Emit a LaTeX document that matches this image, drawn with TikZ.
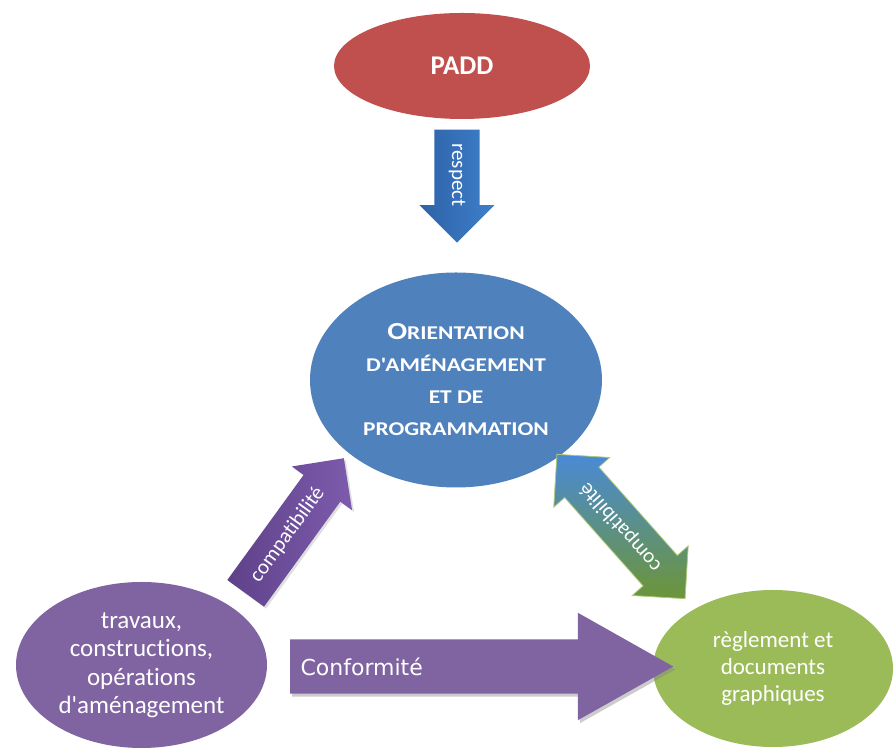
\documentclass[tikz,border=0pt]{standalone}
\usepackage{fontspec}
\setmainfont{Carlito}[Ligatures=NoCommon]
\newfontfamily\widefont{Carlito}[Ligatures=NoCommon, FakeStretch=1.2]
\newfontfamily\dejavu{DejaVu Sans}
\usetikzlibrary{shapes.geometric,shapes.arrows,shadows}

\definecolor{paddred}{HTML}{C0504D}
\definecolor{oapblue}{HTML}{4F81BD}
\definecolor{travpurple}{HTML}{8064A2}
\definecolor{reggreen}{HTML}{9BBB59}
\definecolor{respectdark}{HTML}{2E62A7}
\definecolor{respectlight}{HTML}{3E7FCB}
\definecolor{compatdark}{HTML}{5E4289}
\definecolor{compatlight}{HTML}{7D5BAD}
\definecolor{doubletop}{HTML}{4A8AD6}
\definecolor{doublebottom}{HTML}{6C9538}

\newcommand\petitcap[1]{{\fontsize{19.5}{32}\selectfont #1}}

\begin{document}
\begin{tikzpicture}[x=1pt, y=1pt,
    bubble/.style = {ellipse, inner sep=0pt, text=white, align=center},
    blockarrow/.style = {text height=14pt, text depth=4pt, inner xsep=1pt, inner ysep=13.5pt,
        text=white, font=\fontsize{21}{21}\selectfont}]

    \useasboundingbox (0,0) rectangle (895,749);

    \node[bubble, fill=paddred, minimum width=256pt, minimum height=106pt,
        font=\bfseries\fontsize{27}{30}\selectfont] (padd) at (462,683) {PADD};

    \node[bubble, fill=oapblue, minimum width=292pt, minimum height=215pt,
        font=\widefont\bfseries\fontsize{24.5}{32}\selectfont] (oap) at (456,369)
        {O\petitcap{RIENTATION}\\\petitcap{D\textquotesingle AMÉNAGEMENT}\\\petitcap{ET DE}\\\petitcap{PROGRAMMATION}};

    \node[bubble, fill=travpurple, minimum width=251pt, minimum height=166pt,
        font=\fontsize{25}{28.5}\selectfont] (travaux) at (141.5,84)
        {travaux,\\constructions,\\opérations\\d\textquotesingle aménagement};

    \node[bubble, fill=reggreen, minimum width=240pt, minimum height=157pt,
        font=\fontsize{23}{27}\selectfont] (reglement) at (773,80.5)
        {règlement et\\documents\\graphiques};

    \node[blockarrow, single arrow, single arrow head extend=15pt,
        minimum height=113pt, rotate=-90, anchor=tip,
        left color=respectdark, right color=respectlight] (respect) at (457,506) {respect};

    \node[blockarrow, single arrow, single arrow head extend=14.5pt,
        minimum height=167pt, rotate=54, anchor=tip,
        left color=compatdark, right color=compatlight,
        drop shadow={shadow xshift=2pt, shadow yshift=-2pt, opacity=0.25}] (compatA) at (344,291) {compatibilité};

    \node[blockarrow, double arrow, double arrow head extend=14.5pt,
        minimum height=193pt, rotate=131.6,
        top color=doubletop, bottom color=doublebottom,
        draw=reggreen!80!white, line width=0.8pt] (compatB) at (621,222.5) {compatibilité};

    \node[single arrow, single arrow head extend=26.5pt, single arrow tip angle=58.8,
        text height=0pt, text depth=0pt, inner xsep=0pt, inner ysep=27pt,
        minimum height=383pt, fill=travpurple, anchor=tail,
        drop shadow={shadow xshift=2pt, shadow yshift=-3pt, opacity=0.4}] (conformite) at (290,82.5) {};
    \node[anchor=west, text=white, font=\dejavu\fontsize{22}{22}\selectfont]
        (conftext) at ([xshift=7pt]conformite.tail) {Conformité};

\end{tikzpicture}
\end{document}
